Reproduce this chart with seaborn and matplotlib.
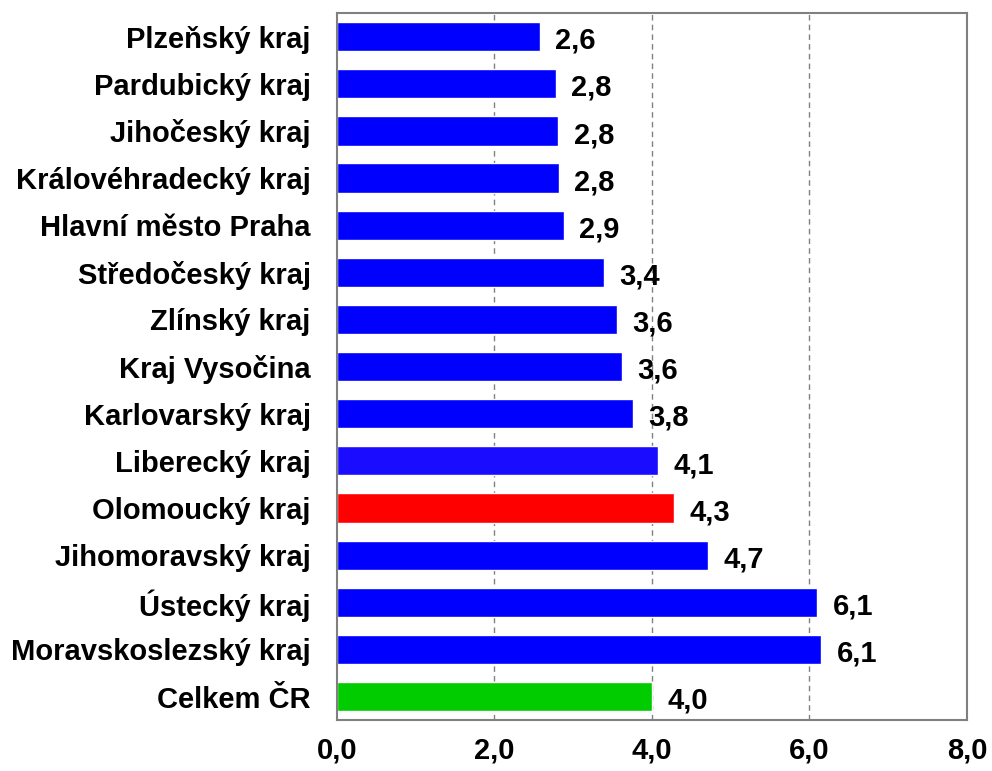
import pandas as pd
import matplotlib.pyplot as plt
import seaborn as sns

# data
regions = ["Plzeňský kraj", "Pardubický kraj", "Jihočeský kraj", "Královéhradecký kraj",
           "Hlavní město Praha", "Středočeský kraj", "Zlínský kraj", "Kraj Vysočina",
           "Karlovarský kraj", "Liberecký kraj", "Olomoucký kraj", "Jihomoravský kraj",
           "Ústecký kraj", "Moravskoslezský kraj", "Celkem ČR"]
values = [2.58, 2.78, 2.81, 2.82, 2.88, 3.39, 3.56, 3.62, 3.76, 4.08, 4.28, 4.71, 6.10, 6.15, 4.0]
labels = ["2,6", "2,8", "2,8", "2,8", "2,9", "3,4", "3,6", "3,6", "3,8", "4,1", "4,3", "4,7", "6,1", "6,1", "4,0"]
bar_colors = ["#0000FF"] * 9 + ["#1A0DFF", "#FF0000", "#0000FF", "#0000FF", "#0000FF", "#00CC00"]
xticks = [0, 2, 4, 6, 8]
xtick_labels = ["0,0", "2,0", "4,0", "6,0", "8,0"]

df = pd.DataFrame({"region": regions, "value": values})

sns.set_style("white")
plt.rcParams['font.family'] = ['Liberation Sans', 'DejaVu Sans']
plt.rcParams['text.color'] = 'black'
plt.rcParams['xtick.color'] = 'black'
plt.rcParams['ytick.color'] = 'black'

fig = plt.figure(figsize=(9.92, 7.71), dpi=100)
ax = fig.add_axes([0.3397, 0.066, 0.635, 0.917])

sns.barplot(data=df, x="value", y="region", hue="region", palette=bar_colors,
            orient="h", width=0.62, legend=False, saturation=1, ax=ax)

# value labels next to bars
for i, (v, t) in enumerate(zip(values, labels)):
    ax.annotate(t, xy=(v, i), xytext=(11, -3), textcoords="offset points",
                ha="left", va="center", fontsize=21, fontweight="bold", color="black")

ax.set_xlim(0, 8)
ax.set_ylim(len(regions) - 0.5, -0.5)
ax.set_xticks(xticks)
ax.set_xticklabels(xtick_labels, fontsize=21, fontweight="bold")
for lbl in ax.get_yticklabels():
    lbl.set_fontsize(21)
    lbl.set_fontweight("bold")
ax.tick_params(axis="y", length=0, pad=19)
ax.tick_params(axis="x", length=0, pad=12)
ax.set_xlabel("")
ax.set_ylabel("")

for x in [2, 4, 6]:
    ax.axvline(x, color="#808080", linestyle=(0, (4, 3)), linewidth=1, zorder=0)
for s in ax.spines.values():
    s.set_color("#808080")
    s.set_linewidth(1.5)

fig.savefig("out.png", dpi=100)
